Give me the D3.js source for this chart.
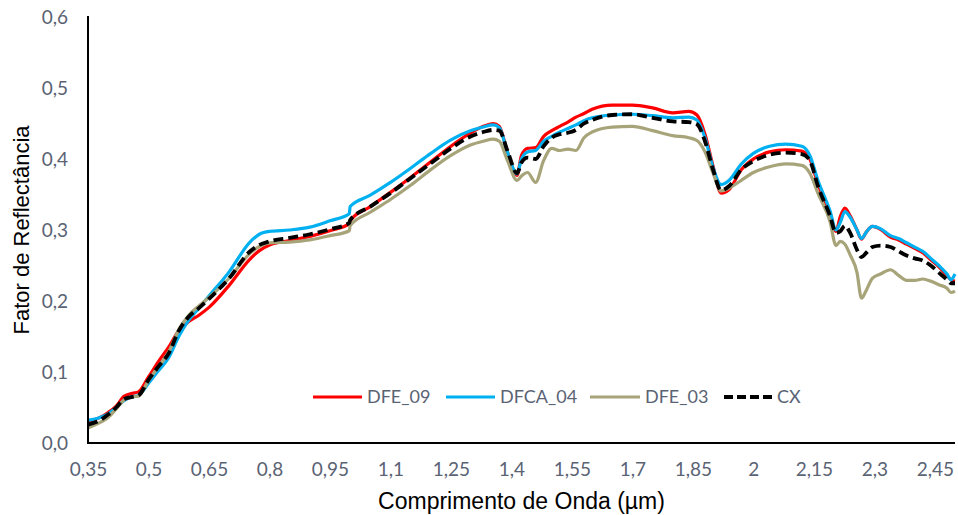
<!DOCTYPE html>
<html>
<head>
<meta charset="utf-8">
<script src="https://cdn.jsdelivr.net/npm/d3@7"></script>
<style>
  html, body { margin: 0; padding: 0; background: #fff; }
  svg { display: block; }
</style>
</head>
<body>
<svg id="chart" width="958" height="515"></svg>
<script>
// Wavelength samples (µm)
const wavelengths = [
  0.35, 0.38, 0.40, 0.42, 0.44, 0.46, 0.475, 0.50, 0.525, 0.55, 0.575, 0.60, 0.625, 0.65,
  0.70, 0.75, 0.775, 0.80, 0.85, 0.90, 0.95, 0.998, 1.00, 1.05, 1.10, 1.15, 1.20, 1.25,
  1.30, 1.33, 1.355, 1.37, 1.39, 1.414, 1.425, 1.44, 1.46, 1.48, 1.50, 1.52, 1.54, 1.56,
  1.58, 1.60, 1.65, 1.70, 1.75, 1.80, 1.84, 1.86, 1.88, 1.90, 1.92, 1.94, 1.97, 2.00,
  2.04, 2.08, 2.12, 2.14, 2.16, 2.19, 2.205, 2.215, 2.227, 2.24, 2.257, 2.268, 2.28, 2.295,
  2.315, 2.34, 2.36, 2.38, 2.40, 2.42, 2.44, 2.46, 2.48, 2.49, 2.50
];

// Reflectance factor per sample
const DFE_09 = [
  .030, .036, .043, .052, .066, .070, .072, .093, .115, .135, .158, .171, .180, .191,
  .222, .258, .271, .279, .285, .291, .299, .309, .313, .333, .353, .374, .396, .418,
  .437, .446, .450, .446, .410, .377, .405, .415, .416, .432, .440, .446, .452, .459,
  .464, .470, .476, .476, .472, .465, .467, .462, .435, .390, .352, .357, .385, .400,
  .410, .413, .411, .400, .365, .323, .298, .318, .331, .320, .300, .287, .297, .305,
  .301, .290, .286, .280, .274, .268, .258, .248, .236, .230, .228
];
const DFCA_04 = [
  .032, .036, .041, .050, .060, .065, .067, .084, .102, .120, .150, .173, .190, .207,
  .241, .282, .294, .298, .300, .304, .313, .323, .333, .349, .367, .387, .408, .427,
  .440, .445, .448, .444, .410, .379, .400, .410, .412, .425, .432, .438, .443, .448,
  .454, .458, .462, .463, .461, .458, .459, .455, .430, .388, .364, .370, .393, .408,
  .418, .421, .418, .405, .370, .327, .300, .310, .326, .318, .300, .288, .297, .305,
  .302, .292, .288, .282, .276, .270, .260, .250, .238, .230, .238
];
const DFE_03 = [
  .021, .029, .036, .048, .061, .065, .066, .088, .108, .128, .160, .180, .193, .205,
  .232, .266, .277, .282, .283, .286, .292, .299, .306, .325, .343, .363, .385, .405,
  .420, .425, .428, .425, .398, .370, .376, .381, .367, .398, .415, .412, .414, .412,
  .430, .438, .445, .446, .440, .433, .430, .426, .410, .380, .355, .359, .370, .381,
  .389, .393, .391, .380, .352, .312, .278, .284, .280, .265, .240, .204, .215, .232,
  .238, .244, .236, .229, .229, .231, .228, .223, .218, .212, .214
];
const CX = [
  .026, .032, .040, .050, .062, .065, .067, .089, .108, .126, .158, .178, .190, .203,
  .232, .269, .279, .284, .289, .294, .301, .310, .314, .333, .352, .373, .394, .415,
  .432, .438, .441, .440, .412, .380, .395, .402, .400, .418, .430, .435, .437, .441,
  .450, .455, .462, .463, .458, .453, .452, .449, .425, .385, .356, .362, .385, .397,
  .406, .409, .407, .398, .362, .320, .296, .298, .306, .296, .272, .262, .268, .276,
  .278, .276, .270, .264, .260, .257, .250, .240, .230, .225, .225
];

const seriesNames = ["DFE_09", "DFCA_04", "DFE_03", "CX"];
const seriesValues = [DFE_09, DFCA_04, DFE_03, CX];
const seriesColors = ["#ff0000", "#00b0f0", "#a8a47a", "#000000"];

const xTickValues = [0.35, 0.5, 0.65, 0.8, 0.95, 1.1, 1.25, 1.4, 1.55, 1.7, 1.85, 2, 2.15, 2.3, 2.45];
const yTickValues = [0, 0.1, 0.2, 0.3, 0.4, 0.5, 0.6];

const svg = d3.select("#chart");
const plot = { left: 88, right: 955, top: 17, bottom: 443 };

const x = d3.scaleLinear().domain([0.35, 2.5]).range([plot.left, plot.right]);
const y = d3.scaleLinear().domain([0, 0.6]).range([plot.bottom, plot.top]);

const fmt = d => String(d).replace(".", ",");
const fmtY = d => d.toFixed(1).replace(".", ",");
const tickColor = "#5a6374";
const tickFont = "Lato, 'Open Sans', sans-serif";

// Axes (no tick marks, only labels)
const xAxis = svg.append("g")
  .attr("transform", `translate(0,${plot.bottom})`)
  .call(d3.axisBottom(x).tickValues(xTickValues).tickFormat(fmt).tickSize(0).tickPadding(20));
xAxis.select(".domain").remove();
xAxis.selectAll("text")
  .attr("fill", tickColor).style("font-family", tickFont).style("font-size", "19px");

const yAxis = svg.append("g")
  .attr("transform", `translate(${plot.left},0)`)
  .call(d3.axisLeft(y).tickValues(yTickValues).tickFormat(fmtY).tickSize(0).tickPadding(20));
yAxis.select(".domain").remove();
yAxis.selectAll("text")
  .attr("fill", tickColor).style("font-family", tickFont).style("font-size", "19px");

// Series lines
const line = d3.line()
  .x((d, i) => x(wavelengths[i]))
  .y(d => y(d))
  .curve(d3.curveMonotoneX);

seriesValues.forEach((vals, k) => {
  const p = svg.append("path")
    .datum(vals)
    .attr("fill", "none")
    .attr("stroke", seriesColors[k])
    .attr("stroke-width", seriesNames[k] === "CX" ? 3.8 : 3.2)
    .attr("stroke-linejoin", "round")
    .attr("d", line);
  if (seriesNames[k] === "CX") p.attr("stroke-dasharray", "10,5");
});

// Axis lines
svg.append("line")
  .attr("x1", plot.left).attr("x2", plot.left)
  .attr("y1", plot.top - 1).attr("y2", plot.bottom + 1)
  .attr("stroke", "#000").attr("stroke-width", 2);
svg.append("line")
  .attr("x1", plot.left - 1).attr("x2", plot.right)
  .attr("y1", plot.bottom).attr("y2", plot.bottom)
  .attr("stroke", "#000").attr("stroke-width", 2);

// Axis titles
svg.append("text")
  .attr("x", (plot.left + plot.right) / 2)
  .attr("y", 509)
  .attr("text-anchor", "middle")
  .style("font-family", "'Liberation Sans', Arial, sans-serif")
  .style("font-size", "23px")
  .attr("fill", "#000")
  .text("Comprimento de Onda (µm)");

svg.append("text")
  .attr("transform", "translate(29,230) rotate(-90)")
  .attr("text-anchor", "middle")
  .style("font-family", "'Liberation Sans', Arial, sans-serif")
  .style("font-size", "22px")
  .attr("fill", "#000")
  .text("Fator de Reflectância");

// Legend
const legendItems = [
  { x: 313, w: 49 },
  { x: 446, w: 49 },
  { x: 590, w: 50 },
  { x: 724, w: 48 }
];
const legendY = 397;
const legend = svg.append("g");
seriesNames.forEach((name, k) => {
  const it = legendItems[k];
  const ln = legend.append("line")
    .attr("x1", it.x).attr("x2", it.x + it.w)
    .attr("y1", legendY).attr("y2", legendY)
    .attr("stroke", seriesColors[k])
    .attr("stroke-width", name === "CX" ? 3.8 : 3.2);
  if (name === "CX") ln.attr("stroke-dasharray", "9,4");
  legend.append("text")
    .attr("x", it.x + it.w + 5)
    .attr("y", legendY)
    .attr("dy", "0.35em")
    .attr("fill", tickColor)
    .style("font-family", tickFont)
    .style("font-size", "18px")
    .text(name);
});
</script>
</body>
</html>
